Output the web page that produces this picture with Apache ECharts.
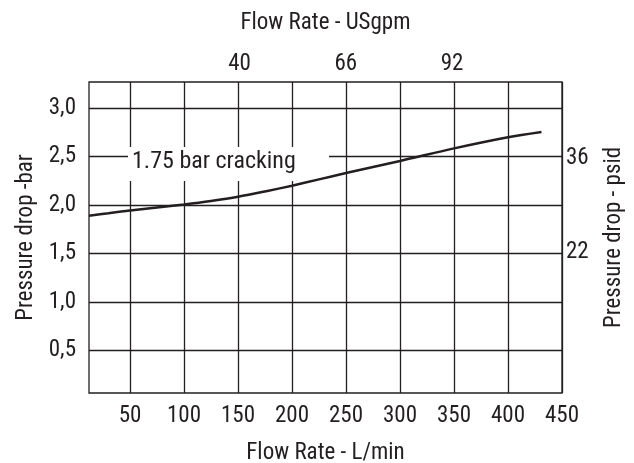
<!DOCTYPE html>
<html><head><meta charset="utf-8">
<script src="https://cdn.jsdelivr.net/npm/echarts@6/dist/echarts.min.js"></script>
<style>html,body{margin:0;padding:0;background:#fff}#c{width:634px;height:463px}</style>
</head><body><div id="c"></div>
<script>
// ---- data ----
const flowLmin    = [12, 30, 50, 75, 100, 125, 150, 175, 200, 225, 250, 300, 350, 400, 431];
const pressureBar = [1.89, 1.915, 1.944, 1.975, 2.006, 2.042, 2.085, 2.14, 2.20, 2.265, 2.33, 2.455, 2.585, 2.70, 2.755];
const xTickValues = [50, 100, 150, 200, 250, 300, 350, 400, 450];
const yTickValues = [0.5, 1.0, 1.5, 2.0, 2.5, 3.0];
const yTickLabels = ['0,5', '1,0', '1,5', '2,0', '2,5', '3,0'];
const topTickValues = [40, 66, 92];      // USgpm
const rightTickValues = [22, 36];        // psid
const annotationText = '1.75 bar cracking';

const L_PER_GAL = 3.785, PSI_PER_BAR = 14.5038;
const X_MIN = 12, X_MAX = 450, Y_MIN = 0.06, Y_MAX = 3.27;

const INK = '#231f20';
const FONT = '"Roboto Condensed", "DejaVu Sans Condensed", sans-serif';

const chart = echarts.init(document.getElementById('c'), null, {renderer: 'canvas'});
chart.setOption({
  animation: false,
  backgroundColor: '#fff',
  textStyle: {fontFamily: FONT, color: INK},
  grid: {left: 89, right: 72, top: 82, bottom: 70, show: true, borderColor: INK, borderWidth: 1.3,
         backgroundColor: 'transparent', containLabel: false, outerBoundsMode: 'none'},
  xAxis: [
    {
      type: 'value', position: 'bottom', min: X_MIN, max: X_MAX,
      name: 'Flow Rate - L/min', nameLocation: 'middle', nameGap: 49,
      nameTextStyle: {fontSize: 23, color: INK, fontFamily: FONT},
      axisLine: {show: false},
      axisTick: {show: false, customValues: xTickValues},
      axisLabel: {customValues: xTickValues, fontSize: 23, color: INK, margin: 12, fontFamily: FONT},
      splitLine: {show: true, lineStyle: {color: INK, width: 1.3}}
    },
    {
      type: 'value', position: 'top', min: X_MIN / L_PER_GAL, max: X_MAX / L_PER_GAL,
      name: 'Flow Rate - USgpm', nameLocation: 'middle', nameGap: 47,
      nameTextStyle: {fontSize: 23, color: INK, fontFamily: FONT},
      axisLine: {show: false},
      axisTick: {show: false, customValues: topTickValues},
      axisLabel: {customValues: topTickValues, fontSize: 23, color: INK, margin: 6, fontFamily: FONT},
      splitLine: {show: false}
    }
  ],
  yAxis: [
    {
      type: 'value', position: 'left', min: Y_MIN, max: Y_MAX,
      name: 'Pressure drop -bar', nameLocation: 'middle', nameGap: 49,
      nameTextStyle: {fontSize: 23, color: INK, fontFamily: FONT},
      axisLine: {show: false},
      axisTick: {show: false, customValues: yTickValues},
      axisLabel: {
        customValues: yTickValues, fontSize: 23, color: INK, margin: 13, fontFamily: FONT,
        formatter: v => { const i = yTickValues.findIndex(t => Math.abs(t - v) < 1e-6); return i >= 0 ? yTickLabels[i] : ''; }
      },
      splitLine: {show: true, lineStyle: {color: INK, width: 1.3}}
    },
    {
      type: 'value', position: 'right', min: Y_MIN * PSI_PER_BAR, max: Y_MAX * PSI_PER_BAR,
      name: 'Pressure drop - psid', nameLocation: 'middle', nameGap: 41,
      nameTextStyle: {fontSize: 23, color: INK, fontFamily: FONT},
      axisLine: {show: false},
      axisTick: {show: false, customValues: rightTickValues},
      axisLabel: {customValues: rightTickValues, fontSize: 23, color: INK, margin: 4, fontFamily: FONT},
      splitLine: {show: false}
    }
  ],
  series: [{
    type: 'line', xAxisIndex: 0, yAxisIndex: 0, z: 3,
    data: flowLmin.map((x, i) => [x, pressureBar[i]]),
    smooth: 0.3, symbol: 'none',
    lineStyle: {color: INK, width: 2.5}
  }],
  graphic: [
    {type: 'rect', shape: {x: 128, y: 147, width: 201, height: 34}, style: {fill: '#fff'}, z: 1},
    {type: 'text', x: 132, y: 162, z: 1,
     style: {text: annotationText, fill: INK, font: '24px ' + FONT, verticalAlign: 'middle', align: 'left'}}
  ]
});
</script></body></html>
